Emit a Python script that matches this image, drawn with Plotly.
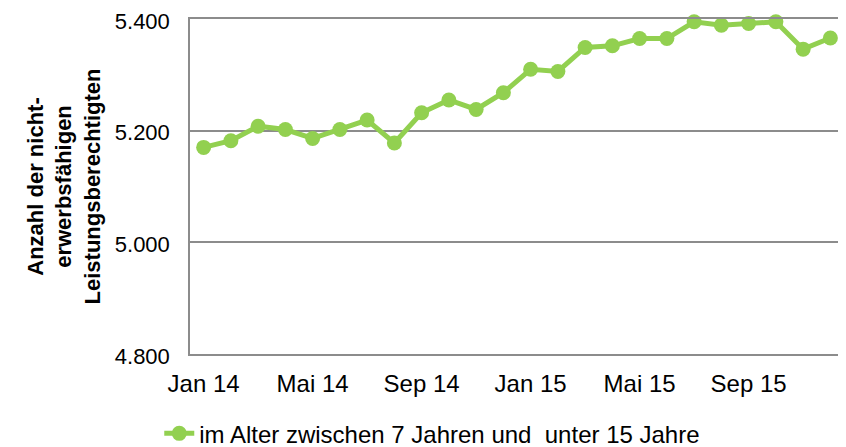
import plotly.graph_objects as go

months = ["Jan 14", "Feb 14", "Mär 14", "Apr 14", "Mai 14", "Jun 14", "Jul 14", "Aug 14",
          "Sep 14", "Okt 14", "Nov 14", "Dez 14", "Jan 15", "Feb 15", "Mär 15", "Apr 15",
          "Mai 15", "Jun 15", "Jul 15", "Aug 15", "Sep 15", "Okt 15", "Nov 15", "Dez 15"]
values = [5170, 5182, 5208, 5202, 5186, 5202, 5219, 5178, 5232, 5255, 5238, 5268,
          5310, 5306, 5349, 5352, 5365, 5365, 5395, 5389, 5392, 5395, 5346, 5366]
series_name = "im Alter zwischen 7 Jahren und  unter 15 Jahre"
tick_step = 4
y_ticks = [4800, 5000, 5200, 5400]

idx = list(range(len(months)))
GREEN = "#92D050"
GRID = "#8c8c8c"
FONT = "Liberation Sans, Arial, sans-serif"

# the page body adds an 8px offset; size the figure so it fills the 846x447 window
W, H = 846 - 8, 447 - 8
ml, mr, mt, mb = 182, 2, 11, 93

fig = go.Figure()
fig.add_trace(go.Scatter(
    x=idx, y=values, name=series_name, mode="lines+markers",
    line=dict(color=GREEN, width=5),
    marker=dict(color=GREEN, size=15),
    cliponaxis=False,
    customdata=months,
    hovertemplate="%{customdata}: %{y}<extra></extra>",
))

fig.update_layout(
    width=W, height=H,
    margin=dict(l=ml, r=mr, t=mt, b=mb, pad=0, autoexpand=False),
    paper_bgcolor="white", plot_bgcolor="white",
    separators=",.",
    font=dict(family=FONT, size=20, color="black"),
    xaxis=dict(range=[-0.5, len(months) - 0.5],
               tickvals=idx[::tick_step], ticktext=months[::tick_step],
               tickfont=dict(family=FONT, size=24), ticklabelstandoff=7,
               ticklabeloverflow="allow",
               showgrid=False, zeroline=False, showline=True, linecolor=GRID, linewidth=1.5,
               mirror=True, ticks=""),
    yaxis=dict(range=[4800, 5400], tickvals=y_ticks, tickformat=",d",
               showgrid=True, gridcolor=GRID, gridwidth=1.5, zeroline=False,
               showline=True, linecolor=GRID, linewidth=1.5, ticks="",
               ticklabelstandoff=14, ticklabeloverflow="allow", ticklabelshift=2,
               tickfont=dict(family=FONT, size=22),
               title=dict(text="Anzahl der nicht-<br>erwerbsfähigen<br>Leistungsberechtigten",
                          font=dict(family=FONT, size=22, color="black", weight="bold"),
                          standoff=8)),
    legend=dict(orientation="h", x=-0.047, xanchor="left", y=-0.238, yanchor="middle",
                font=dict(family=FONT, size=24), bgcolor="rgba(0,0,0,0)",
                borderwidth=0),
    showlegend=True,
)

fig.write_html("out.html")
